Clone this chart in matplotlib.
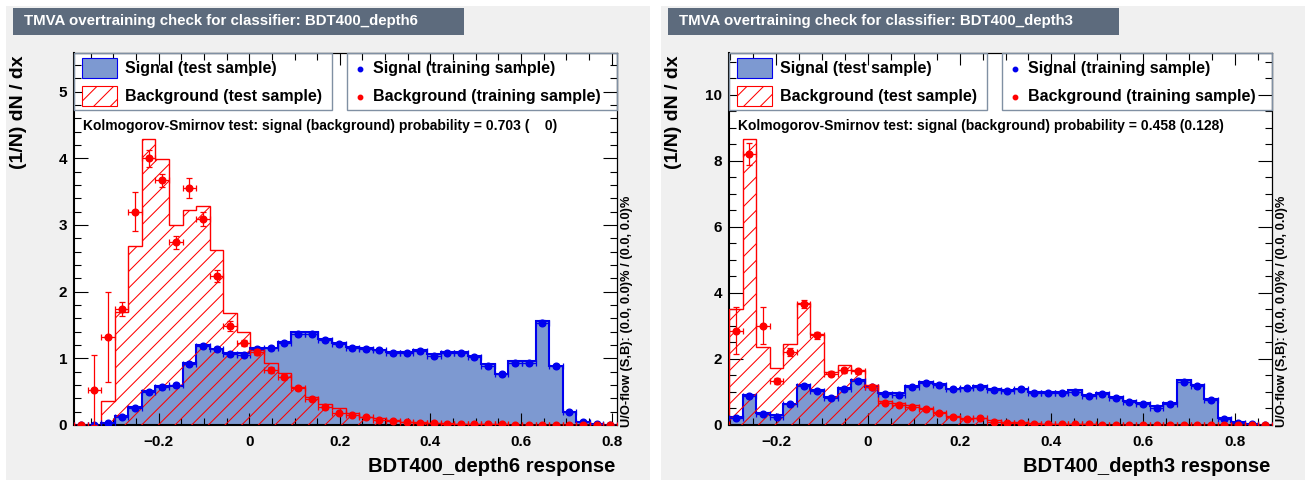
import numpy as np
import matplotlib
matplotlib.use("Agg")
import matplotlib.pyplot as plt
from matplotlib.patches import Rectangle
from matplotlib.lines import Line2D
from matplotlib.ticker import MultipleLocator

plt.rcParams['font.family'] = ['Liberation Sans', 'DejaVu Sans']
plt.rcParams['font.weight'] = 'bold'
plt.rcParams['hatch.linewidth'] = 0.75

# ---- classifier output histograms (40 bins each, normalised) ----
classifiers = ["BDT400_depth6", "BDT400_depth3"]
x_ranges = [(-0.387, 0.812), (-0.303, 0.881)]
ks_probs = ["0.703 (    0)", "0.458 (0.128)"]

sig_test_d6 = [0, 0, 0.03, 0.13, 0.275, 0.515, 0.585, 0.585, 0.925, 1.195,
               1.14, 1.085, 1.085, 1.16, 1.16, 1.25, 1.39, 1.39, 1.29, 1.225,
               1.175, 1.15, 1.13, 1.10, 1.10, 1.13, 1.06, 1.10, 1.10, 1.035,
               0.915, 0.765, 0.96, 0.96, 1.56, 0.89, 0.20, 0.05, 0.015, 0.0]
sig_train_d6 = [0, 0, 0.025, 0.125, 0.25, 0.49, 0.575, 0.60, 0.915, 1.19,
                1.135, 1.06, 1.05, 1.14, 1.16, 1.235, 1.365, 1.36, 1.275, 1.21,
                1.16, 1.14, 1.125, 1.085, 1.085, 1.115, 1.035, 1.085, 1.085, 1.015,
                0.89, 0.765, 0.935, 0.935, 1.535, 0.885, 0.19, 0.04, 0.01, 0.0]
sig_err_d6 = [0, 0, 0.01, 0.02, 0.02, 0.03, 0.03, 0.03, 0.03, 0.03,
              0.03, 0.03, 0.03, 0.03, 0.03, 0.03, 0.03, 0.03, 0.03, 0.03,
              0.03, 0.03, 0.03, 0.03, 0.03, 0.03, 0.03, 0.03, 0.03, 0.03,
              0.03, 0.03, 0.03, 0.03, 0.04, 0.03, 0.015, 0.01, 0.005, 0]
bkg_test_d6 = [0, 0, 0.365, 1.69, 2.68, 4.29, 3.99, 3.0, 3.23, 3.29,
               2.62, 1.68, 1.40, 1.13, 0.93, 0.78, 0.57, 0.42, 0.31, 0.25,
               0.185, 0.125, 0.10, 0.07, 0.05, 0.04, 0.03, 0.025, 0.02, 0.015,
               0.01, 0.008, 0.005, 0.004, 0.003, 0.002, 0.001, 0, 0, 0]
bkg_train_d6 = [0, 0.525, 1.32, 1.74, 3.2, 4.0, 3.67, 2.74, 3.55, 3.09,
                2.23, 1.485, 1.23, 1.10, 0.825, 0.725, 0.55, 0.395, 0.265, 0.185,
                0.15, 0.115, 0.08, 0.065, 0.045, 0.03, 0.025, 0.02, 0.015, 0.01,
                0.01, 0.008, 0.005, 0.004, 0.003, 0.002, 0.001, 0, 0, 0]
bkg_err_d6 = [0, 0.52, 0.68, 0.11, 0.29, 0.13, 0.10, 0.10, 0.15, 0.11,
              0.09, 0.07, 0.05, 0.045, 0.04, 0.035, 0.03, 0.025, 0.02, 0.015,
              0.012, 0.01, 0.008, 0.007, 0.006, 0.005, 0.004, 0.004, 0.003, 0.003,
              0.002, 0.002, 0.002, 0.001, 0.001, 0.001, 0.001, 0, 0, 0]

sig_test_d3 = [0.25, 0.90, 0.37, 0.30, 0.65, 1.20, 1.07, 0.84, 1.11, 1.36,
               1.16, 0.96, 0.96, 1.17, 1.30, 1.25, 1.10, 1.13, 1.17, 1.10,
               1.07, 1.10, 1.00, 1.00, 1.00, 1.05, 0.90, 0.96, 0.85, 0.72,
               0.66, 0.56, 0.68, 1.36, 1.21, 0.79, 0.21, 0.08, 0.03, 0.01]
sig_train_d3 = [0.20, 0.88, 0.33, 0.25, 0.63, 1.18, 1.04, 0.83, 1.08, 1.33,
                1.14, 0.93, 0.92, 1.14, 1.28, 1.21, 1.09, 1.11, 1.16, 1.06,
                1.04, 1.09, 0.98, 0.98, 0.98, 1.01, 0.88, 0.93, 0.81, 0.70,
                0.63, 0.52, 0.64, 1.31, 1.18, 0.76, 0.17, 0.07, 0.02, 0.0]
sig_err_d3 = [0.03, 0.05, 0.03, 0.03, 0.04, 0.05, 0.05, 0.04, 0.05, 0.05,
              0.05, 0.04, 0.04, 0.05, 0.05, 0.05, 0.05, 0.05, 0.05, 0.05,
              0.05, 0.05, 0.04, 0.04, 0.04, 0.04, 0.04, 0.04, 0.04, 0.04,
              0.04, 0.03, 0.04, 0.05, 0.05, 0.04, 0.02, 0.01, 0.01, 0]
bkg_test_d3 = [3.5, 8.66, 2.37, 1.72, 2.45, 3.69, 2.75, 1.61, 1.82, 1.67,
               1.21, 0.73, 0.68, 0.60, 0.52, 0.38, 0.28, 0.21, 0.21, 0.16,
               0.10, 0.08, 0.05, 0.04, 0.03, 0.025, 0.02, 0.015, 0.012, 0.01,
               0.008, 0.006, 0.005, 0.004, 0.003, 0.002, 0.001, 0.001, 0, 0]
bkg_train_d3 = [2.86, 8.2, 3.0, 1.33, 2.2, 3.65, 2.71, 1.55, 1.65, 1.62,
                1.14, 0.68, 0.62, 0.55, 0.47, 0.35, 0.25, 0.19, 0.20, 0.10,
                0.07, 0.06, 0.04, 0.035, 0.03, 0.02, 0.018, 0.015, 0.012, 0.01,
                0.008, 0.006, 0.005, 0.004, 0.003, 0.002, 0.001, 0.001, 0, 0]
bkg_err_d3 = [0.71, 0.33, 0.56, 0.10, 0.12, 0.12, 0.10, 0.07, 0.07, 0.07,
              0.06, 0.05, 0.04, 0.04, 0.035, 0.03, 0.025, 0.02, 0.02, 0.015,
              0.012, 0.01, 0.008, 0.007, 0.006, 0.005, 0.004, 0.004, 0.003, 0.003,
              0.002, 0.002, 0.002, 0.001, 0.001, 0.001, 0.001, 0, 0, 0]

y_max = [5.58, 11.26]
y_major = [1, 2]
y_minor = [0.2, 0.5]

SIG_FILL = '#7d99d1'
SIG_LINE = '#0000ee'
BOX_COL = '#5d6b7d'

W, H = 1310, 480
fig = plt.figure(figsize=(W / 100, H / 100), dpi=100)
fig.patch.set_facecolor('white')


def fx(px):
    return px / W


def fy(py):
    return 1 - py / H


def draw_panel(k, sig_test, sig_train, sig_err, bkg_test, bkg_train, bkg_err):
    ox = 655 * k
    # canvas and title box
    fig.add_artist(Rectangle((fx(6 + ox), 0), 644 / W, fy(6), transform=fig.transFigure,
                             facecolor='#f0f0f0', edgecolor='none', zorder=-5))
    fig.add_artist(Rectangle((fx(12.7 + ox), fy(35)), 451.3 / W, 27 / H,
                             transform=fig.transFigure, facecolor=BOX_COL,
                             edgecolor='none', zorder=-4))
    fig.text(fx(24 + ox), fy(21.5), "TMVA overtraining check for classifier: " + classifiers[k],
             color='white', fontsize=10.8, ha='left', va='center')

    ax = fig.add_axes([fx(74 + ox), fy(425), 543 / W, 372 / H])
    xmin, xmax = x_ranges[k]
    edges = np.linspace(xmin, xmax, len(sig_test) + 1)
    centers = 0.5 * (edges[1:] + edges[:-1])
    half = 0.5 * (edges[1] - edges[0])

    ax.stairs(sig_test, edges, fill=True, facecolor=SIG_FILL, edgecolor='none', zorder=1)
    ax.stairs(sig_test, edges, color=SIG_LINE, lw=1.5, zorder=2)
    ax.stairs(bkg_test, edges, fill=True, facecolor='none', edgecolor='red',
              hatch='//', lw=0, zorder=3)
    ax.stairs(bkg_test, edges, color='red', lw=1.0, zorder=4)
    ax.errorbar(centers, sig_train, xerr=half, yerr=sig_err, fmt='o', color=SIG_LINE,
                ms=4.8, elinewidth=0.9, capsize=2, capthick=0.9, zorder=5)
    ax.errorbar(centers, bkg_train, xerr=half, yerr=bkg_err, fmt='o', color='red',
                ms=4.8, elinewidth=0.9, capsize=2, capthick=0.9, zorder=6)

    ax.set_xlim(xmin, xmax)
    ax.set_ylim(0, y_max[k])
    ax.xaxis.set_major_locator(MultipleLocator(0.2))
    ax.xaxis.set_minor_locator(MultipleLocator(0.05))
    ax.yaxis.set_major_locator(MultipleLocator(y_major[k]))
    ax.yaxis.set_minor_locator(MultipleLocator(y_minor[k]))
    ax.xaxis.set_major_formatter(lambda v, p: "0" if abs(v) < 1e-9 else f"{v:.1f}".replace('-', '\u2212'))
    ax.tick_params(which='both', direction='in', top=True, right=True, width=0.8,
                   labelsize=11)
    ax.tick_params(axis='x', which='major', length=8.6, pad=7)
    ax.tick_params(axis='y', which='major', length=10, pad=5)
    ax.tick_params(which='minor', length=5)
    for s in ('left', 'bottom'):
        ax.spines[s].set_linewidth(1.5)
    for s in ('top', 'right'):
        ax.spines[s].set_linewidth(0.9)
    for lab in ax.get_xticklabels() + ax.get_yticklabels():
        lab.set_fontweight('bold')

    # legend boxes
    for x0, x1 in ((74, 332), (347, 617)):
        fig.add_artist(Rectangle((fx(x0 + ox), fy(110)), (x1 - x0) / W, 57 / H,
                                 transform=fig.transFigure, facecolor='none',
                                 edgecolor='#8090a3', lw=1.0, zorder=3))
    fig.add_artist(Rectangle((fx(82 + ox), fy(77.5)), 35 / W, 19.5 / H,
                             transform=fig.transFigure, facecolor=SIG_FILL,
                             edgecolor=SIG_LINE, lw=0.8, zorder=3))
    fig.add_artist(Rectangle((fx(82 + ox), fy(106)), 35 / W, 20 / H,
                             transform=fig.transFigure, facecolor='white',
                             edgecolor='red', hatch='//', lw=0.8, zorder=3))
    fig.text(fx(125 + ox), fy(69), "Signal (test sample)", fontsize=11.5, va='center')
    fig.text(fx(125 + ox), fy(97), "Background (test sample)", fontsize=11.5, va='center')
    fig.add_artist(Line2D([fx(360 + ox)], [fy(69)], marker='o', ms=3.2, color=SIG_LINE,
                          transform=fig.transFigure))
    fig.add_artist(Line2D([fx(360 + ox)], [fy(97)], marker='o', ms=3.2, color='red',
                          transform=fig.transFigure))
    fig.text(fx(373 + ox), fy(69), "Signal (training sample)", fontsize=11.5, va='center')
    fig.text(fx(373 + ox), fy(97), "Background (training sample)", fontsize=11.5, va='center')

    fig.text(fx(83 + ox), fy(126),
             "Kolmogorov-Smirnov test: signal (background) probability = " + ks_probs[k],
             fontsize=10, va='center')

    fig.text(fx(19 + ox), fy(55), "(1/N) dN / dx", rotation=90, ha='center', va='top',
             fontsize=14)
    fig.text(fx(615 + ox), fy(466), classifiers[k] + " response", ha='right', va='center',
             fontsize=14.5)
    fig.text(fx(627 + ox), fy(427), "U/O-flow (S,B): (0.0, 0.0)% / (0.0, 0.0)%",
             rotation=90, ha='center', va='bottom', fontsize=9.3)


draw_panel(0, sig_test_d6, sig_train_d6, sig_err_d6, bkg_test_d6, bkg_train_d6, bkg_err_d6)
draw_panel(1, sig_test_d3, sig_train_d3, sig_err_d3, bkg_test_d3, bkg_train_d3, bkg_err_d3)

fig.savefig("out.png", dpi=100)
